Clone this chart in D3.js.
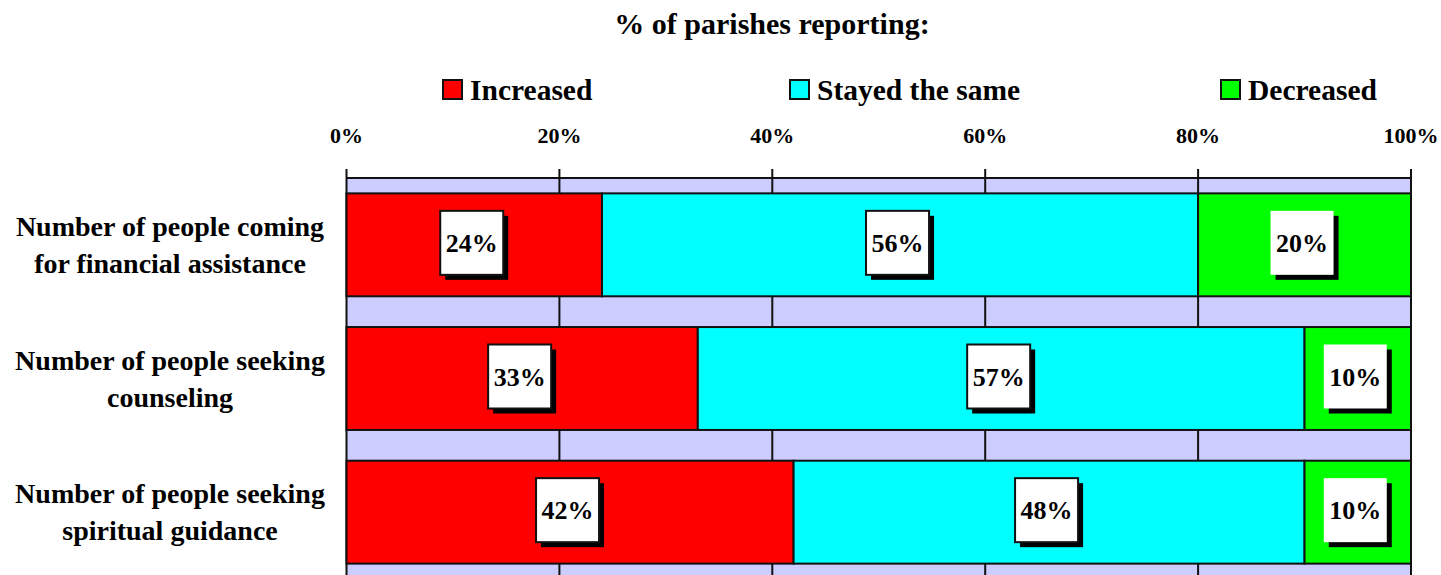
<!DOCTYPE html>
<html>
<head>
<meta charset="utf-8">
<script src="https://cdn.jsdelivr.net/npm/d3@7"></script>
<style>
  body { margin: 0; background: #fff; }
  text { font-family: "Liberation Serif", "DejaVu Serif", serif; font-weight: bold; fill: #000; }
</style>
</head>
<body>
<div class="chart"></div>
<script>
const categories = [
  ['Number of people coming', 'for financial assistance'],
  ['Number of people seeking', 'counseling'],
  ['Number of people seeking', 'spiritual guidance']
];
const seriesNames = ['Increased', 'Stayed the same', 'Decreased'];
const increased = [24, 33, 42];
const stayedSame = [56, 57, 48];
const decreased = [20, 10, 10];
const tickValues = [0, 20, 40, 60, 80, 100];

const colors = ['#FF0000', '#00FFFF', '#00FF00'];

const W = 1441, H = 575;
const margin = {top:178, left:346.5, right:30, bottom:-4};
const width = W - margin.left - margin.right;
const height = H - margin.top - margin.bottom;

const svg = d3.select('.chart')
  .append('svg')
  .attr('width', W)
  .attr('height', H);

const g = svg.append('g')
  .attr('transform', 'translate(' + margin.left + ',' + margin.top + ')');

const xScale = d3.scaleLinear()
  .domain([0, 100])
  .range([0, width]);

const yScale = d3.scaleBand()
  .domain(d3.range(categories.length))
  .range([0, height])
  .paddingInner(0.23)
  .paddingOuter(0.115);

// plot background
g.append('rect')
  .attr('x', 0).attr('y', 0)
  .attr('width', width).attr('height', height)
  .attr('fill', '#CCCCFF');

// vertical grid lines
g.selectAll('.grid')
  .data(tickValues)
  .enter()
  .append('line')
  .attr('x1', d => xScale(d)).attr('x2', d => xScale(d))
  .attr('y1', -9).attr('y2', height)
  .attr('stroke', '#111')
  .attr('stroke-width', 2);

// top axis line
g.append('line')
  .attr('x1', 0).attr('x2', width)
  .attr('y1', 0).attr('y2', 0)
  .attr('stroke', '#111')
  .attr('stroke-width', 2);

// tick labels
g.selectAll('.tick-label')
  .data(tickValues)
  .enter()
  .append('text')
  .attr('x', d => xScale(d))
  .attr('y', -35)
  .attr('text-anchor', 'middle')
  .style('font-size', '22px')
  .text(d => d + '%');

// stacked data
const rows = categories.map((c, i) => ({i: i, vals: [increased[i], stayedSame[i], decreased[i]]}));
const segs = [];
rows.forEach(r => {
  let x0 = 0;
  r.vals.forEach((v, k) => {
    segs.push({row: r.i, k: k, x0: x0, x1: x0 + v, v: v});
    x0 += v;
  });
});

g.selectAll('.bars')
  .data(segs)
  .enter()
  .append('rect')
  .attr('class', 'bars')
  .attr('x', d => xScale(d.x0))
  .attr('y', d => yScale(d.row))
  .attr('width', d => xScale(d.x1) - xScale(d.x0))
  .attr('height', yScale.bandwidth())
  .attr('fill', d => colors[d.k])
  .attr('stroke', '#111')
  .attr('stroke-width', 2);

// data labels
const labels = g.selectAll('.label')
  .data(segs)
  .enter()
  .append('g')
  .attr('class', 'label')
  .attr('transform', d => 'translate(' + ((xScale(d.x0) + xScale(d.x1)) / 2 - 2.5) + ',' + (yScale(d.row) + yScale.bandwidth() / 2 - 2) + ')');

labels.each(function(d) {
  const lg = d3.select(this);
  const t = lg.append('text')
    .attr('text-anchor', 'middle')
    .attr('dy', '0.35em')
    .style('font-size', '26px')
    .text(d.v + '%');
  const tw = t.node().getComputedTextLength();
  const bw = tw + 11, bh = 64;
  lg.insert('rect', 'text')
    .attr('x', -bw / 2 + 5).attr('y', -bh / 2 + 5)
    .attr('width', bw).attr('height', bh)
    .attr('fill', '#000');
  lg.insert('rect', 'text')
    .attr('x', -bw / 2).attr('y', -bh / 2)
    .attr('width', bw).attr('height', bh)
    .attr('fill', '#fff')
    .attr('stroke', d.k === 2 ? 'none' : '#111')
    .attr('stroke-width', 2);
});

// category labels
const cat = svg.selectAll('.cat')
  .data(categories)
  .enter()
  .append('text')
  .attr('class', 'cat')
  .attr('text-anchor', 'middle')
  .style('font-size', '28px')
  .attr('transform', (d, i) => 'translate(170,' + (margin.top + yScale(i) + yScale.bandwidth() / 2) + ')');

cat.selectAll('tspan')
  .data(d => d)
  .enter()
  .append('tspan')
  .attr('x', 0)
  .attr('y', (d, j) => j === 0 ? -9 : 28)
  .text(d => d);

// title
svg.append('text')
  .attr('x', 772)
  .attr('y', 34)
  .attr('text-anchor', 'middle')
  .style('font-size', '30px')
  .text('% of parishes reporting:');

// legend
const legendX = [443, 790, 1221];
const legend = svg.selectAll('.legend')
  .data(seriesNames)
  .enter()
  .append('g')
  .attr('transform', (d, i) => 'translate(' + legendX[i] + ',80)');

legend.append('rect')
  .attr('width', 19).attr('height', 19)
  .attr('fill', (d, i) => colors[i])
  .attr('stroke', '#111')
  .attr('stroke-width', 2);

legend.append('text')
  .attr('x', 27)
  .attr('y', 20)
  .style('font-size', '29.5px')
  .text(d => d);
</script>
</body>
</html>
